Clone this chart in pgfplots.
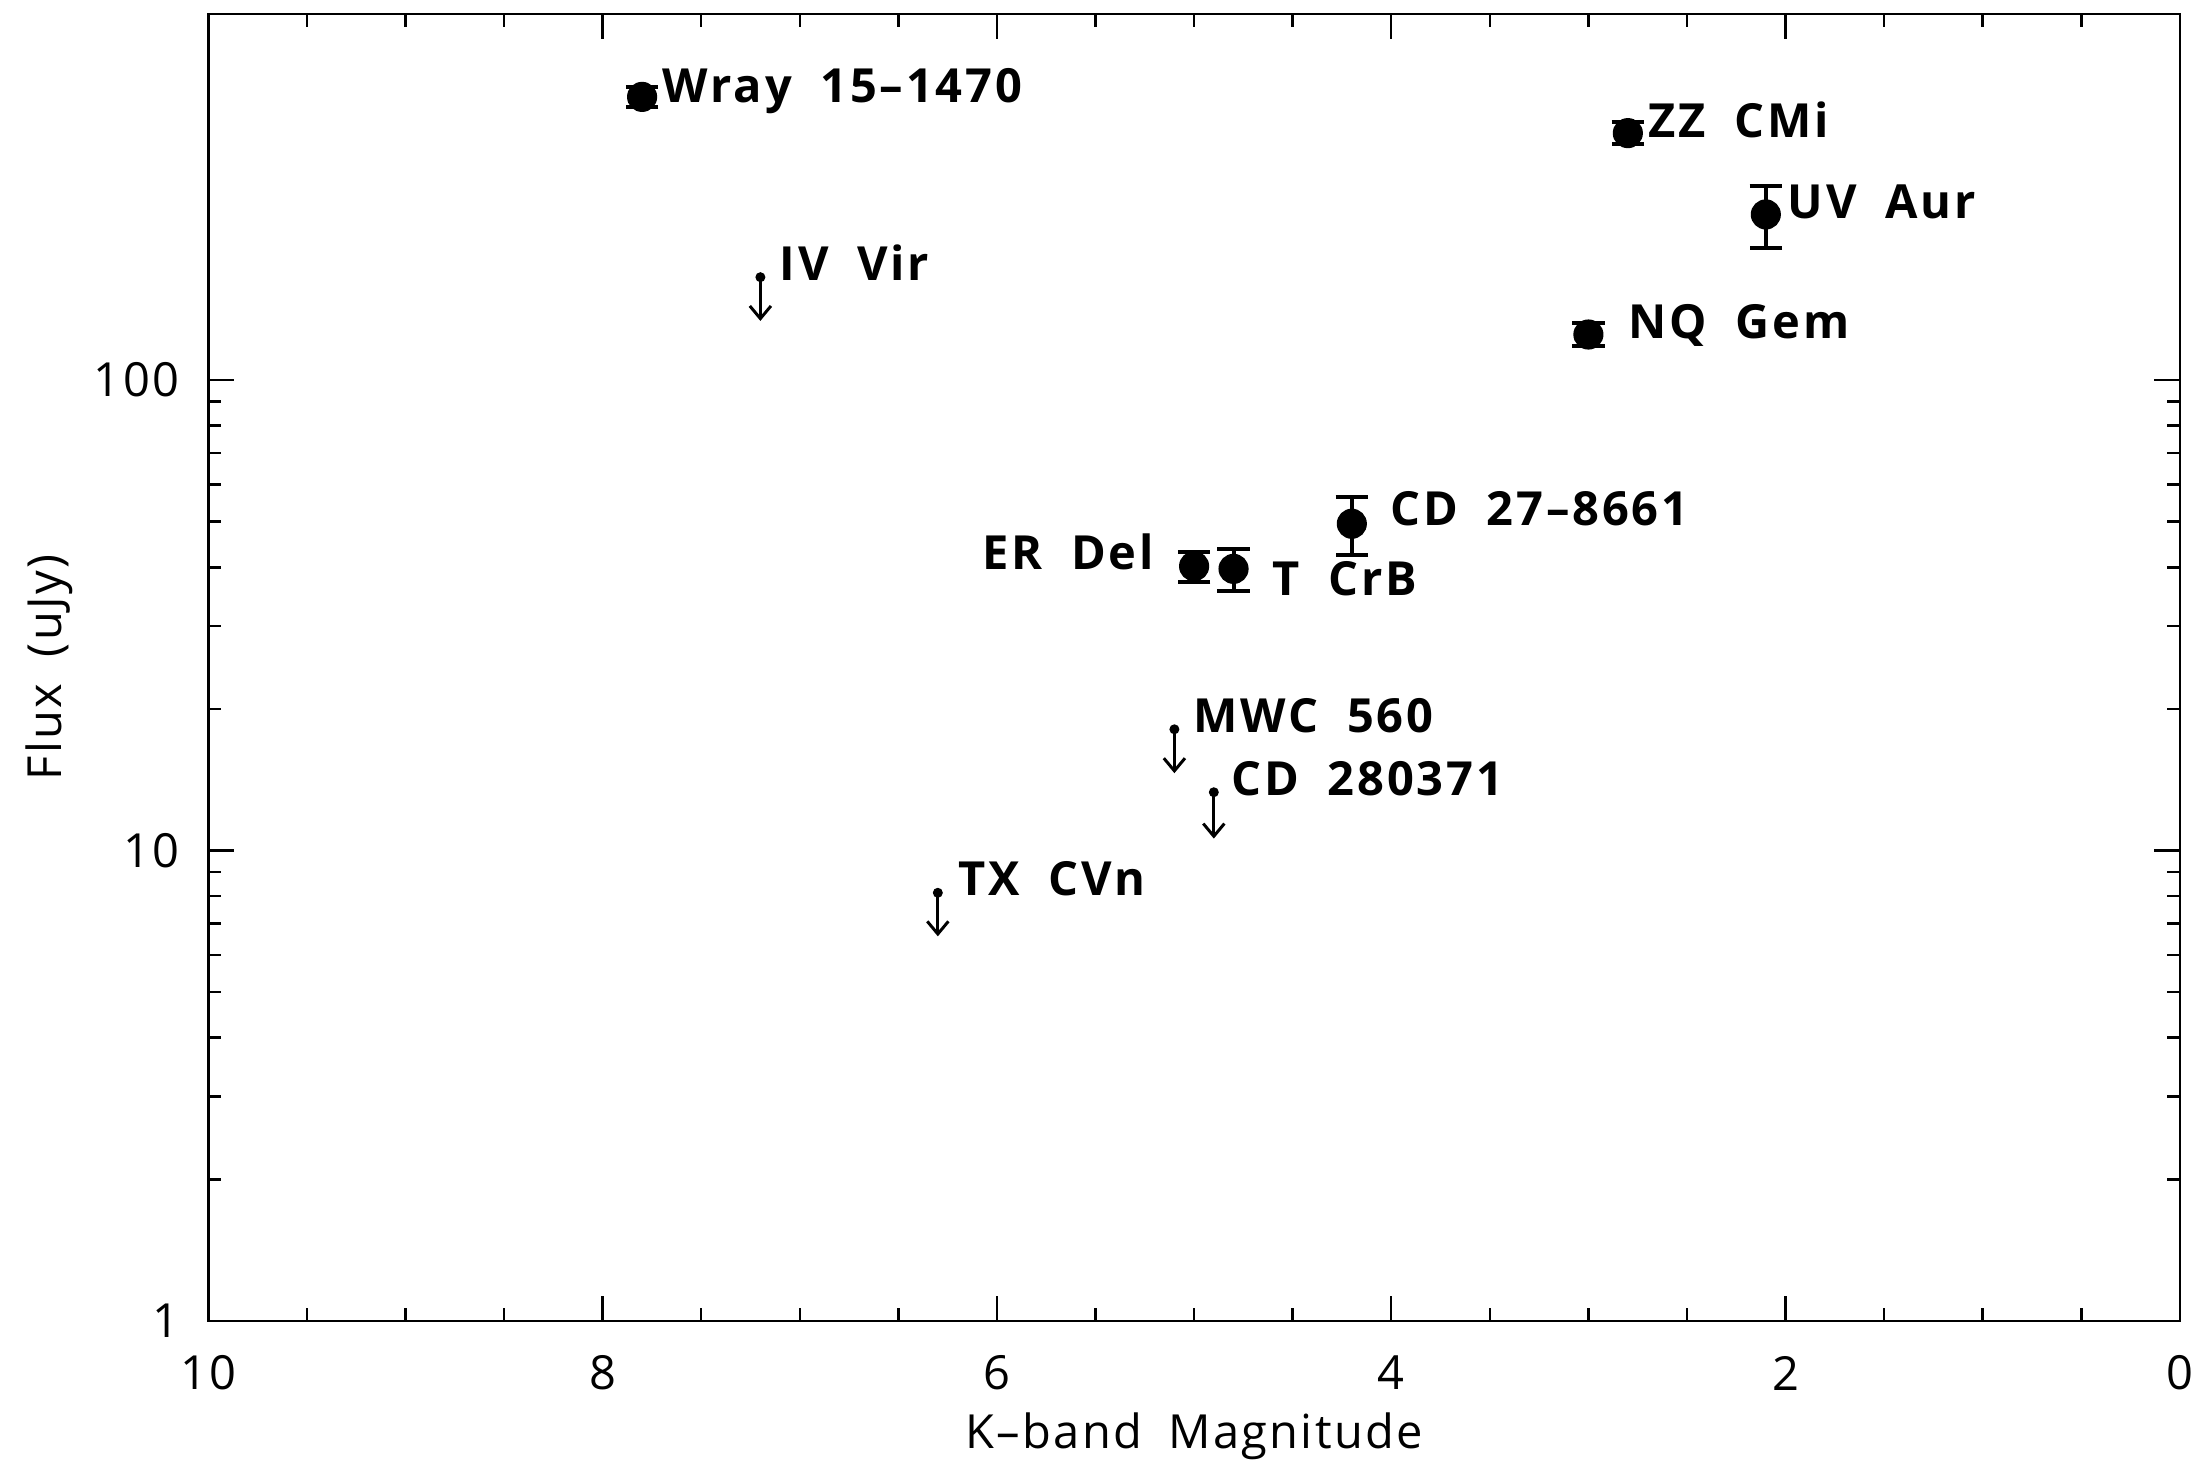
\documentclass[border=0pt]{standalone}
\usepackage{fontspec}
\setmainfont[LetterSpace=5, WordSpace=1.8]{Open Sans}
\newfontfamily\namefont[LetterSpace=6, WordSpace=1.9]{Open Sans}
\usepackage{pgfplots}
\pgfplotsset{compat=1.18}
\usetikzlibrary{arrows.meta}

% detections: K magnitude, flux, error
\pgfplotstableread{
k    f     e
7.8  400   20
2.8  335   18
2.1  225   34
3.0  125   7
4.2  49.5  7
5.0  40.2  3
4.8  39.7  4
}\detections

\newcommand{\lab}{\namefont\fontsize{9.5}{11}\selectfont\bfseries}

\begin{document}
\begin{tikzpicture}
\begin{axis}[
  scale only axis, width=14cm, height=9.28cm,
  xmin=0, xmax=10, x dir=reverse,
  ymode=log, ymin=1, ymax=600,
  xtick={0,2,4,6,8,10}, minor x tick num=3,
  ytick={1,10,100}, yticklabels={1,10,100},
  tick align=inside,
  major tick length=1.8mm, minor tick length=0.9mm,
  axis line style={line width=0.5pt},
  every tick/.style={black, line width=0.5pt},
  tick label style={font=\fontsize{9.5}{11}\selectfont, inner sep=0pt},
  /pgf/number format/assume math mode=true,
  xticklabel style={anchor=center, yshift=-3.7mm},
  yticklabel style={anchor=east, xshift=-2mm},
  xlabel={K\textendash band Magnitude}, ylabel={Flux (uJy)},
  label style={font=\fontsize{9.5}{11}\selectfont, inner sep=0pt},
  xlabel style={at={([yshift=-8.2mm]axis description cs:0.5,0)}, anchor=center},
  ylabel style={at={([xshift=-11.3mm]axis description cs:0,0.5)}, anchor=center},
  clip=false,
]
% sources with measured fluxes
\addplot[only marks, mark=*, mark size=1.0mm, black,
  error bars/.cd, y dir=both, y explicit,
  error bar style={line width=0.8pt, black},
  error mark options={rotate=90, mark size=1.15mm, line width=0.8pt, black}]
  table[x=k, y=f, y error=e] {\detections};

% upper limits: dot at the limit, arrow pointing down
\addplot[black, line width=0.6pt, -{Straight Barb[length=0.9mm,width=1.5mm]}] coordinates {(7.2,165.5) (7.2,133.6)};
\addplot[black, line width=0.6pt, -{Straight Barb[length=0.9mm,width=1.5mm]}] coordinates {(5.1,18.1) (5.1,14.6)};
\addplot[black, line width=0.6pt, -{Straight Barb[length=0.9mm,width=1.5mm]}] coordinates {(4.9,13.3) (4.9,10.6)};
\addplot[black, line width=0.6pt, -{Straight Barb[length=0.9mm,width=1.5mm]}] coordinates {(6.3,8.13) (6.3,6.57)};
\addplot[only marks, mark=*, mark size=0.28mm, black] coordinates {(7.2,165.5) (5.1,18.1) (4.9,13.3) (6.3,8.13)};

% source names
\node[anchor=base west, inner sep=0pt, font=\lab, xshift=1.4mm, yshift=-0.4mm] at (axis cs:7.8,400) {Wray 15\textendash 1470};
\node[anchor=base west, inner sep=0pt, font=\lab, xshift=1.3mm, yshift=-0.2mm] at (axis cs:7.2,165.5) {IV Vir};
\node[anchor=base west, inner sep=0pt, font=\lab, xshift=1.4mm, yshift=-0.3mm] at (axis cs:2.8,335) {ZZ CMi};
\node[anchor=base west, inner sep=0pt, font=\lab, xshift=1.5mm, yshift=-0.3mm] at (axis cs:2.1,225) {UV Aur};
\node[anchor=base west, inner sep=0pt, font=\lab, xshift=2.8mm, yshift=-0.3mm] at (axis cs:3.0,125) {NQ Gem};
\node[anchor=base west, inner sep=0pt, font=\lab, xshift=2.7mm, yshift=-0.1mm] at (axis cs:4.2,49.5) {CD 27\textendash 8661};
\node[anchor=base east, inner sep=0pt, font=\lab, xshift=-2.8mm, yshift=-0.2mm] at (axis cs:5.0,40.2) {ER Del};
\node[anchor=base west, inner sep=0pt, font=\lab, xshift=2.7mm, yshift=-1.9mm] at (axis cs:4.8,39.7) {T CrB};
\node[anchor=base west, inner sep=0pt, font=\lab, xshift=1.3mm, yshift=-0.2mm] at (axis cs:5.1,18.1) {MWC 560};
\node[anchor=base west, inner sep=0pt, font=\lab, xshift=1.2mm, yshift=-0.2mm] at (axis cs:4.9,13.3) {CD 280371};
\node[anchor=base west, inner sep=0pt, font=\lab, xshift=1.4mm, yshift=-0.2mm] at (axis cs:6.3,8.13) {TX CVn};
\end{axis}
\path ([xshift=-14.8mm,yshift=-10.3mm]current axis.south west) rectangle ([xshift=2mm,yshift=1mm]current axis.north east);
\end{tikzpicture}
\end{document}
